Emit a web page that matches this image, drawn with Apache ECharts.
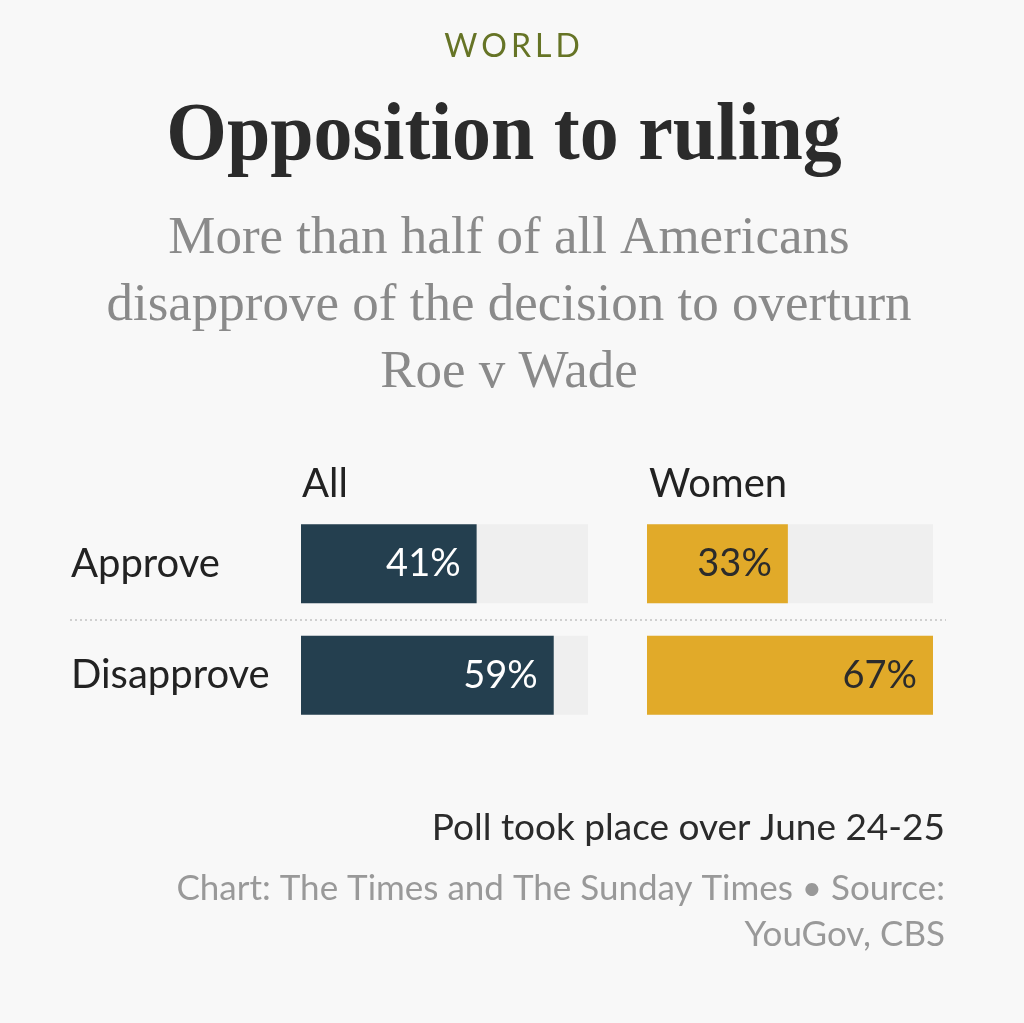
<!DOCTYPE html>
<html>
<head>
<meta charset="utf-8">
<script src="https://cdn.jsdelivr.net/npm/echarts@6/dist/echarts.min.js"></script>
<style>
html,body{margin:0;padding:0;background:#f8f8f8;}
#chart{width:1024px;height:1023px;}
</style>
</head>
<body>
<div id="chart"></div>
<script>
var categories = ['Approve', 'Disapprove'];
var groups = ['All', 'Women'];
var allValues = [41, 59];
var womenValues = [33, 67];
var axisMax = 67;

var sans = 'Lato, "Open Sans", sans-serif';
var serif = '"Liberation Serif", "DejaVu Serif", serif';

var chart = echarts.init(document.getElementById('chart'));
var gridTop = 508, gridH = 223;
var option = {
  backgroundColor: '#f8f8f8',
  animation: false,
  title: [
    {text: 'W\u2009O\u2009R\u2009L\u2009D', left: 507, top: 26, textAlign: 'center',
     textStyle: {fontFamily: sans, fontSize: 32, fontWeight: 'normal', color: '#667426'}},
    {text: 'More than half of all Americans\ndisapprove of the decision to overturn\nRoe v Wade', left: 504, top: 201, textAlign: 'center',
     textStyle: {fontFamily: serif, fontSize: 53, fontWeight: 'normal', color: '#8a8a8a', lineHeight: 67}},
    {text: groups[0], left: 297, top: 459,
     textStyle: {fontFamily: sans, fontSize: 40, fontWeight: 'normal', color: '#222'}},
    {text: groups[1], left: 644, top: 459,
     textStyle: {fontFamily: sans, fontSize: 40, fontWeight: 'normal', color: '#222'}}
  ],
  grid: [
    {left: 301, width: 287, top: gridTop, height: gridH},
    {left: 647, width: 286, top: gridTop, height: gridH}
  ],
  xAxis: [
    {gridIndex: 0, type: 'value', min: 0, max: axisMax, show: false},
    {gridIndex: 1, type: 'value', min: 0, max: axisMax, show: false}
  ],
  yAxis: [
    {gridIndex: 0, type: 'category', data: categories, inverse: true,
     axisLine: {show: false}, axisTick: {show: false}, splitLine: {show: false},
     axisLabel: {align: 'left', margin: 230, fontFamily: sans, fontSize: 40, color: '#222'}},
    {gridIndex: 1, type: 'category', data: categories, inverse: true, show: false}
  ],
  series: [
    {type: 'bar', xAxisIndex: 0, yAxisIndex: 0, data: allValues, barWidth: 79,
     itemStyle: {color: '#243f4f'},
     showBackground: true, backgroundStyle: {color: '#efefef'},
     label: {show: true, position: 'insideRight', distance: 16, formatter: '{c}%',
             fontFamily: sans, fontSize: 38, color: '#fff'}},
    {type: 'bar', xAxisIndex: 1, yAxisIndex: 1, data: womenValues, barWidth: 79,
     itemStyle: {color: '#e1aa29'},
     showBackground: true, backgroundStyle: {color: '#efefef'},
     label: {show: true, position: 'insideRight', distance: 16, formatter: '{c}%',
             fontFamily: sans, fontSize: 38, color: '#2b2b2b'}}
  ],
  graphic: [
    {type: 'text', x: 504, y: 97, scaleX: 0.95,
     style: {text: 'Opposition to ruling', textAlign: 'center', textVerticalAlign: 'top',
             font: 'bold 82px ' + serif, fill: '#2b2b2b'}},
    {type: 'line', shape: {x1: 70, y1: 620, x2: 946, y2: 620},
     style: {stroke: '#cfcfcf', lineWidth: 2, lineDash: [2, 3]}},
    {type: 'text', x: 945, y: 810,
     style: {text: 'Poll took place over June 24-25', textAlign: 'right', textVerticalAlign: 'top',
             font: '37px ' + sans, fill: '#2b2b2b'}},
    {type: 'text', x: 945, y: 866,
     style: {text: 'Chart: The Times and The Sunday Times \u2022 Source:\nYouGov, CBS', textAlign: 'right', textVerticalAlign: 'top',
             font: '35px ' + sans, fill: '#999999', lineHeight: 46}}
  ]
};
chart.setOption(option);
</script>
</body>
</html>
